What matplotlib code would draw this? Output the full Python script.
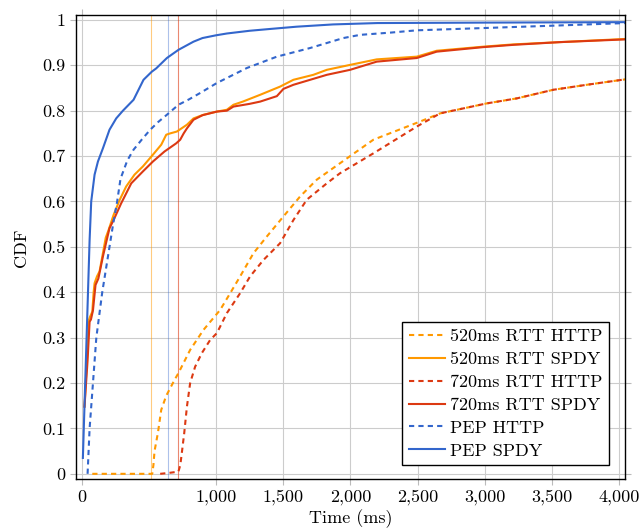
import numpy as np
import matplotlib
matplotlib.use("Agg")
import matplotlib.pyplot as plt
from matplotlib.ticker import FuncFormatter

plt.rcParams["font.family"] = "cmr10"
plt.rcParams["axes.formatter.use_mathtext"] = True
plt.rcParams["font.size"] = 13

# page load time CDFs (ms)
http520_x = [80, 526, 535, 543, 568, 593, 630, 692, 721, 808, 907, 1031, 1106, 1180, 1279, 1379, 1502,
             1626, 1750, 1922, 2171, 2518, 2667, 3014, 3237, 3509, 3758, 4045]
http520_y = [0.0, 0.0, 0.02, 0.05, 0.09, 0.141, 0.172, 0.207, 0.222, 0.273, 0.317, 0.361, 0.398, 0.435,
             0.486, 0.523, 0.567, 0.611, 0.648, 0.684, 0.736, 0.776, 0.794, 0.816, 0.827, 0.846, 0.857, 0.869]

spdy520_x = [22, 40, 55, 62, 80, 90, 97, 115, 134, 159, 180, 201, 238, 283, 332, 394, 456, 531, 593, 630,
             660, 709, 784, 833, 907, 1007, 1081, 1130, 1200, 1329, 1477, 1576, 1725, 1825, 2000, 2196,
             2494, 2642, 2989, 3212, 3559, 4045]
spdy520_y = [0.148, 0.25, 0.339, 0.345, 0.357, 0.40, 0.42, 0.435, 0.446, 0.486, 0.52, 0.537, 0.57, 0.603,
             0.633, 0.659, 0.677, 0.703, 0.725, 0.747, 0.75, 0.754, 0.769, 0.783, 0.791, 0.798, 0.802,
             0.813, 0.82, 0.835, 0.853, 0.868, 0.879, 0.89, 0.901, 0.913, 0.919, 0.932, 0.941, 0.946,
             0.951, 0.958]

http720_x = [585, 650, 700, 721, 735, 746, 764, 784, 808, 845, 895, 957, 1007, 1081, 1180, 1254, 1353,
             1477, 1576, 1676, 1825, 1922, 2171, 2494, 2667, 3014, 3237, 3509, 3758, 4045]
http720_y = [0.0, 0.002, 0.004, 0.005, 0.02, 0.046, 0.09, 0.148, 0.2, 0.236, 0.266, 0.295, 0.31, 0.354,
             0.398, 0.435, 0.471, 0.508, 0.559, 0.604, 0.64, 0.662, 0.706, 0.765, 0.794, 0.816, 0.827,
             0.846, 0.857, 0.869]

spdy720_x = [22, 45, 60, 70, 85, 104, 125, 160, 208, 240, 295, 370, 456, 531, 617, 704, 734, 760, 784,
             833, 900, 1007, 1081, 1130, 1250, 1329, 1453, 1502, 1576, 1825, 1998, 2196, 2494, 2642, 2989,
             3212, 3559, 4045]
spdy720_y = [0.148, 0.25, 0.335, 0.34, 0.36, 0.416, 0.43, 0.48, 0.541, 0.56, 0.596, 0.64, 0.666, 0.688,
             0.71, 0.728, 0.736, 0.75, 0.761, 0.78, 0.79, 0.798, 0.80, 0.809, 0.815, 0.82, 0.832, 0.848,
             0.857, 0.879, 0.89, 0.908, 0.916, 0.93, 0.94, 0.945, 0.951, 0.957]

pep_http_x = [45, 60, 85, 110, 154, 208, 235, 265, 290, 340, 387, 450, 511, 570, 635, 721, 800, 883, 1007,
              1230, 1453, 1700, 1948, 2072, 2300, 2494, 2989, 3485, 4045]
pep_http_y = [0.0, 0.1, 0.2, 0.3, 0.4, 0.5, 0.55, 0.60, 0.65, 0.69, 0.714, 0.737, 0.758, 0.775, 0.791,
              0.813, 0.825, 0.839, 0.861, 0.894, 0.919, 0.938, 0.96, 0.967, 0.972, 0.977, 0.982, 0.987,
              0.993]

pep_spdy_x = [10, 60, 72, 97, 122, 159, 208, 258, 308, 387, 461, 523, 555, 635, 721, 833, 900, 1000, 1081,
              1250, 1403, 1600, 1872, 2200, 3000, 4045]
pep_spdy_y = [0.035, 0.515, 0.60, 0.659, 0.688, 0.717, 0.758, 0.783, 0.80, 0.824, 0.868, 0.886, 0.893,
              0.916, 0.934, 0.952, 0.96, 0.966, 0.97, 0.976, 0.98, 0.985, 0.99, 0.993, 0.994, 0.995]

# RTT markers
rtt_marks = [520, 640, 720]

orange = "#ff9900"
red = "#dc3912"
blue = "#3366cc"

fig = plt.figure(figsize=(6.4, 5.29), dpi=100)
ax = fig.add_axes([0.119, 0.094, 0.858, 0.877])

ax.axvline(rtt_marks[0], color=orange, lw=0.8, alpha=0.5)
ax.axvline(rtt_marks[1], color=blue, lw=0.8, alpha=0.4)
ax.axvline(rtt_marks[2], color=red, lw=0.8, alpha=0.6)

lw = 1.5
dash = (2.5, 2)
ax.plot(http520_x, http520_y, color=orange, lw=lw, dashes=dash, label="520ms RTT HTTP")
ax.plot(spdy520_x, spdy520_y, color=orange, lw=lw, label="520ms RTT SPDY")
ax.plot(http720_x, http720_y, color=red, lw=lw, dashes=dash, label="720ms RTT HTTP")
ax.plot(spdy720_x, spdy720_y, color=red, lw=lw, label="720ms RTT SPDY")
ax.plot(pep_http_x, pep_http_y, color=blue, lw=lw, dashes=dash, label="PEP HTTP")
ax.plot(pep_spdy_x, pep_spdy_y, color=blue, lw=lw, label="PEP SPDY")

ax.set_xlim(-40, 4045)
ax.set_ylim(-0.012, 1.01)
ax.set_xticks([0, 1000, 1500, 2000, 2500, 3000, 3500, 4000])
ax.set_yticks(np.arange(0, 1.01, 0.1))
ax.xaxis.set_major_formatter(FuncFormatter(lambda v, p: "{:,}".format(int(round(v)))))
ax.yaxis.set_major_formatter(FuncFormatter(lambda v, p: "{:g}".format(round(v, 1))))
ax.grid(True, color="#cccccc", lw=0.8)
ax.set_axisbelow(True)
ax.tick_params(direction="out", length=4.5, width=0.8, color="#bbbbbb",
               top=True, right=True, pad=3)
for s in ax.spines.values():
    s.set_linewidth(1.0)

ax.set_xlabel("Time (ms)", labelpad=3)
ax.set_ylabel("CDF", labelpad=10)

leg = ax.legend(loc="lower right", bbox_to_anchor=(0.97, 0.031), borderaxespad=0,
                fancybox=False, framealpha=1, edgecolor="black", handlelength=2.0,
                labelspacing=0.4, borderpad=0.35, handletextpad=0.3)
leg.get_frame().set_linewidth(1.0)

plt.savefig("out.png", dpi=100)
